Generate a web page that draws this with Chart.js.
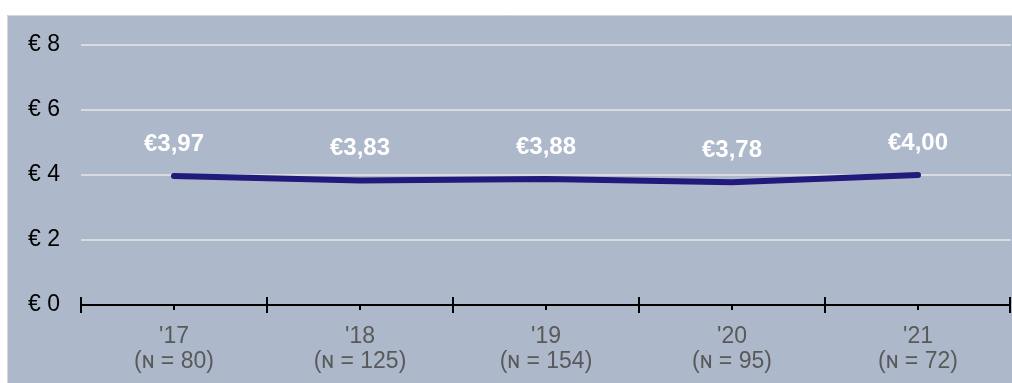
<!DOCTYPE html>
<html>
<head>
<meta charset="utf-8">
<script src="https://cdn.jsdelivr.net/npm/chart.js@4/dist/chart.umd.min.js"></script>
<style>
  html, body { margin: 0; padding: 0; background: #ffffff; }
  #wrap { width: 1012px; height: 383px; }
</style>
</head>
<body>
<div id="wrap"><canvas id="priceChart" width="1012" height="383"></canvas></div>
<script>
// years and respondent counts
const years = ["'17", "'18", "'19", "'20", "'21"];
const respondents = [80, 125, 154, 95, 72];
// average price per year
const prices = [3.97, 3.83, 3.88, 3.78, 4.0];
// y axis ticks
const yTicks = [0, 2, 4, 6, 8];

const FONT = "'Liberation Sans', Arial, sans-serif";

const xLabels = years.map((y, i) => [y, `(ɴ = ${respondents[i]})`]);

// grey panel behind the whole chart
const panelPlugin = {
  id: "panel",
  beforeDraw(chart) {
    const ctx = chart.ctx;
    ctx.save();
    ctx.fillStyle = "#adb9cb";
    ctx.fillRect(7, 15, chart.width - 7, chart.height - 15);
    ctx.strokeStyle = "#d3d6dc";
    ctx.lineWidth = 1;
    ctx.beginPath();
    ctx.moveTo(7.5, chart.height);
    ctx.lineTo(7.5, 15.5);
    ctx.lineTo(chart.width, 15.5);
    ctx.stroke();
    ctx.restore();
  },
};

// x axis line with long ticks between years and short ones at each year
const axisPlugin = {
  id: "axisTicks",
  afterDatasetsDraw(chart) {
    const ctx = chart.ctx;
    const x = chart.scales.x;
    const y0 = chart.scales.y.getPixelForValue(0);
    ctx.save();
    ctx.strokeStyle = "#000000";
    ctx.lineWidth = 2;
    ctx.beginPath();
    ctx.moveTo(x.left, y0);
    ctx.lineTo(x.right, y0);
    const half = (x.getPixelForValue(1) - x.getPixelForValue(0)) / 2;
    for (let i = 0; i < years.length; i++) {
      const c = x.getPixelForValue(i);
      // short tick at the year
      ctx.moveTo(c, y0);
      ctx.lineTo(c, y0 + 5);
      // long tick at the left boundary
      ctx.moveTo(c - half, y0 - 8);
      ctx.lineTo(c - half, y0 + 8);
    }
    const last = x.getPixelForValue(years.length - 1) + half;
    ctx.moveTo(last - 1, y0 - 8);
    ctx.lineTo(last - 1, y0 + 8);
    ctx.stroke();
    ctx.restore();
  },
};

// white value labels above the points
const valuePlugin = {
  id: "values",
  afterDatasetsDraw(chart) {
    const ctx = chart.ctx;
    const meta = chart.getDatasetMeta(0);
    ctx.save();
    ctx.fillStyle = "#ffffff";
    ctx.font = `bold 24px ${FONT}`;
    ctx.textAlign = "center";
    ctx.textBaseline = "middle";
    meta.data.forEach((pt, i) => {
      const txt = "€" + prices[i].toFixed(2).replace(".", ",");
      ctx.fillText(txt, pt.x, pt.y - 32);
    });
    ctx.restore();
  },
};

new Chart(document.getElementById("priceChart"), {
  type: "line",
  data: {
    labels: xLabels,
    datasets: [
      {
        data: prices,
        borderColor: "#211a7b",
        borderWidth: 6,
        borderCapStyle: "round",
        pointRadius: 0,
        tension: 0,
        fill: false,
      },
    ],
  },
  options: {
    responsive: false,
    animation: false,
    devicePixelRatio: 1,
    layout: { padding: { top: 45, right: 1, left: 0, bottom: 0 } },
    plugins: {
      legend: { display: false },
      tooltip: { enabled: false },
    },
    scales: {
      x: {
        offset: true,
        border: { display: false },
        grid: { display: false },
        ticks: {
          color: "#595959",
          font: { family: FONT, size: 23, lineHeight: 1.1 },
          padding: 11,
          maxRotation: 0,
        },
        afterFit(scale) {
          scale.height = 78;
        },
      },
      y: {
        min: 0,
        max: 8,
        border: { display: false },
        grid: {
          color: (c) => (c.tick.value === 0 ? "rgba(0,0,0,0)" : "#d9dbe0"),
          lineWidth: 2,
          drawTicks: false,
        },
        afterBuildTicks(scale) {
          scale.ticks = yTicks.map((v) => ({ value: v }));
        },
        ticks: {
          color: "#000000",
          font: { family: FONT, size: 23 },
          padding: 21,
          callback: (v) => "€ " + v,
        },
        afterFit(scale) {
          scale.width = 81;
        },
      },
    },
  },
  plugins: [panelPlugin, axisPlugin, valuePlugin],
});
</script>
</body>
</html>
